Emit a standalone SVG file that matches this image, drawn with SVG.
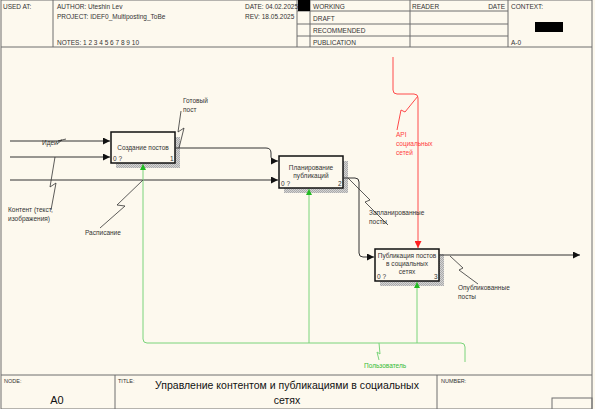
<svg xmlns="http://www.w3.org/2000/svg" width="595" height="409" viewBox="0 0 595 409">
<defs>
<style>
.frame{fill:none;stroke:#6e6e6e;stroke-width:1}
.hd{font-family:"Liberation Sans",Arial,sans-serif;font-size:6.5px;fill:#333}
.sm{font-family:"Liberation Sans",Arial,sans-serif;font-size:5.5px;fill:#333}
.lbl{font-family:"Liberation Sans",Arial,sans-serif;font-size:6.5px;fill:#333}
.box{fill:#fdf9ee;stroke:#111;stroke-width:1.5}
.shadow{fill:url(#hatch)}
.bt{font-family:"Liberation Sans",Arial,sans-serif;font-size:6.5px;fill:#333;text-anchor:middle}
.arr{fill:none;stroke:#333;stroke-width:1}
.sq{fill:none;stroke:#333;stroke-width:0.8}
.red{fill:none;stroke:#ff4a4a;stroke-width:1}
.grn{fill:none;stroke:#7ad47a;stroke-width:1}
</style>
<pattern id="hatch" width="2" height="2" patternUnits="userSpaceOnUse">
<rect width="2" height="2" fill="#d4d4d4"/>
<rect width="1" height="1" fill="#ababab"/>
<rect x="1" y="1" width="1" height="1" fill="#ababab"/>
</pattern>
<marker id="ah" viewBox="0 0 8 8" refX="8" refY="4" markerWidth="7" markerHeight="7" markerUnits="userSpaceOnUse" orient="auto">
<path d="M0,0 L8,4 L0,8 Z" fill="#111"/>
</marker>
<marker id="ahr" viewBox="0 0 8 8" refX="8" refY="4" markerWidth="7" markerHeight="7" markerUnits="userSpaceOnUse" orient="auto">
<path d="M0,0 L8,4 L0,8 Z" fill="#ff2020"/>
</marker>
<marker id="ahg" viewBox="0 0 8 8" refX="8" refY="4" markerWidth="6" markerHeight="6" markerUnits="userSpaceOnUse" orient="auto">
<path d="M0,0 L8,4 L0,8 Z" fill="#22bb22"/>
</marker>
</defs>
<rect width="595" height="409" fill="#fdf9ee"/>

<g id="header">
<rect class="frame" x="1" y="0" width="591" height="409"/>
<line class="frame" x1="1" y1="47" x2="592" y2="47"/>
<line class="frame" x1="53" y1="0" x2="53" y2="47"/>
<line class="frame" x1="297" y1="0" x2="297" y2="47"/>
<line class="frame" x1="310" y1="0" x2="310" y2="47"/>
<line class="frame" x1="410" y1="0" x2="410" y2="47"/>
<line class="frame" x1="508" y1="0" x2="508" y2="47"/>
<line class="frame" x1="297" y1="11" x2="508" y2="11"/>
<line class="frame" x1="297" y1="24" x2="508" y2="24"/>
<line class="frame" x1="297" y1="36" x2="508" y2="36"/>
<rect x="298" y="0" width="12" height="11" fill="#000"/>
<rect x="535" y="22" width="28" height="10" fill="#000"/>
<text class="hd" x="3" y="9">USED AT:</text>
<text class="hd" x="57" y="9">AUTHOR:  Uteshin Lev</text>
<text class="hd" x="57" y="19">PROJECT:   IDEF0_Multiposting_ToBe</text>
<text class="hd" x="57" y="45">NOTES:  1  2  3  4  5  6  7  8  9  10</text>
<text class="hd" x="245" y="9">DATE:  04.02.2025</text>
<text class="hd" x="245" y="19">REV:    18.05.2025</text>
<text class="hd" x="313" y="9">WORKING</text>
<text class="hd" x="313" y="21">DRAFT</text>
<text class="hd" x="313" y="33">RECOMMENDED</text>
<text class="hd" x="313" y="45">PUBLICATION</text>
<text class="hd" x="412" y="9">READER</text>
<text class="hd" x="505" y="9" text-anchor="end">DATE</text>
<text class="hd" x="511" y="9">CONTEXT:</text>
<text class="hd" x="511" y="45">A-0</text>
</g>

<g id="footer">
<line class="frame" x1="1" y1="375" x2="592" y2="375"/>
<line class="frame" x1="115" y1="375" x2="115" y2="409"/>
<line class="frame" x1="437" y1="375" x2="437" y2="409"/>
<rect class="frame" x="552" y="398" width="40" height="12"/>
<text class="sm" x="4" y="383">NODE:</text>
<text x="57" y="404" text-anchor="middle" font-family="Liberation Sans, Arial, sans-serif" font-size="11" fill="#111">A0</text>
<text class="sm" x="118" y="383">TITLE:</text>
<text x="287" y="389" text-anchor="middle" font-family="Liberation Sans, Arial, sans-serif" font-size="10.5" fill="#111">Управление контентом и публикациями  в социальных</text>
<text x="287" y="404" text-anchor="middle" font-family="Liberation Sans, Arial, sans-serif" font-size="10.5" fill="#111">сетях</text>
<text class="sm" x="441" y="383">NUMBER:</text>
</g>

<g id="node1">
<rect class="shadow" x="116" y="137" width="64" height="31"/>
<rect class="box" x="111" y="132" width="64" height="31"/>
<text class="bt" x="143" y="150">Создание постов</text>
<text class="lbl" x="113" y="161">0 ?</text>
<text class="lbl" x="170" y="161">1</text>
</g>

<g id="node2">
<rect class="shadow" x="284" y="161" width="64" height="32"/>
<rect class="box" x="279" y="156" width="64" height="32"/>
<text class="bt" x="311" y="170">Планирование</text>
<text class="bt" x="311" y="178">публикаций</text>
<text class="lbl" x="281" y="186">0 ?</text>
<text class="lbl" x="338" y="186">2</text>
</g>

<g id="node3">
<rect class="shadow" x="380" y="254" width="64" height="32"/>
<rect class="box" x="375" y="249" width="64" height="32"/>
<text class="bt" x="407" y="258">Публикация постов</text>
<text class="bt" x="407" y="266">в социальных</text>
<text class="bt" x="407" y="274">сетях</text>
<text class="lbl" x="377" y="279">0 ?</text>
<text class="lbl" x="434" y="279">3</text>
</g>

<g id="connectors">
<path class="arr" d="M10,141 H110" marker-end="url(#ah)"/>
<path class="arr" d="M10,157 H110" marker-end="url(#ah)"/>
<path class="arr" d="M10,180 H278" marker-end="url(#ah)"/>
<path class="arr" d="M175,148 H266 Q271,148 271,153 V157 Q271,161 275,161 H278" marker-end="url(#ah)"/>
<path class="arr" d="M343,178 H355 Q359,178 359,182 V253 Q359,257 363,257 H374" marker-end="url(#ah)"/>
<path class="arr" d="M439,255 H580" marker-end="url(#ah)"/>
<path class="red" d="M393,57 V90 Q393,94 397,94 H414 Q418,94 418,98 V248" marker-end="url(#ahr)"/>
<path class="grn" d="M465,362 V347 Q465,343 461,343 H147 Q143,343 143,339 V164" marker-end="url(#ahg)"/>
<path class="grn" d="M309,343 V189" marker-end="url(#ahg)"/>
<path class="grn" d="M417,343 V282" marker-end="url(#ahg)"/>
<path class="sq" d="M57,144 L62,140 L58,141 L66,139"/>
<path class="sq" d="M51,210 L56,183 L50,187 L55,157"/>
<path class="sq" d="M181,111 L178,132 L184,128 L179,148"/>
<path class="sq" d="M100,228 L125,206 L117,205 L143,180"/>
<path class="sq" d="M348,178 L370,200 L365,202 L388,225"/>
<path class="sq" d="M450,256 L463,268 L459,270 L478,284"/>
<path class="red" d="M418,96 L405,112 L401,110 L397,130" stroke-width="0.8"/>
<path class="grn" d="M379,343 L380,354 L377,352 L379,360" stroke-width="0.8"/>
</g>

<g id="labels">
<text class="lbl" x="42" y="145">Идеи</text>
<text class="lbl" x="8" y="212">Контент (текст,</text>
<text class="lbl" x="8" y="221">изображения)</text>
<text class="lbl" x="183" y="103">Готовый</text>
<text class="lbl" x="183" y="112">пост</text>
<text class="lbl" x="85" y="235">Расписание</text>
<text class="lbl" x="369" y="215">Запланированные</text>
<text class="lbl" x="369" y="224">посты</text>
<text class="lbl" x="458" y="290">Опубликованные</text>
<text class="lbl" x="458" y="299">посты</text>
<text class="lbl" x="396" y="137" style="fill:#ff4040">API</text>
<text class="lbl" x="396" y="146" style="fill:#ff4040">социальных</text>
<text class="lbl" x="396" y="155" style="fill:#ff4040">сетей</text>
<text class="lbl" x="364" y="368" style="fill:#33bb33">Пользователь</text>
</g>
</svg>
